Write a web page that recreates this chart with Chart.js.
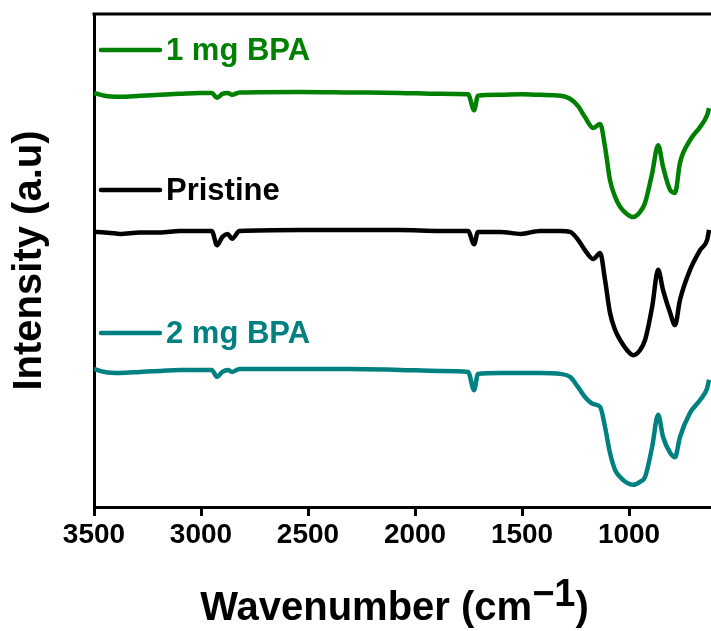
<!DOCTYPE html>
<html>
<head>
<meta charset="utf-8">
<script src="https://cdn.jsdelivr.net/npm/chart.js@4.4.1/dist/chart.umd.min.js"></script>
<style>
  body { margin: 0; background: #fff; }
  #wrap { width: 711px; height: 631px; }
</style>
</head>
<body>
<div id="wrap"><canvas id="ftirChart" width="711" height="631"></canvas></div>
<script>
// FTIR spectra, x axis in cm-1 (reversed), intensity in arbitrary units
const wavenumbers = [3500, 3450, 3380, 3285, 3190, 3100, 3005, 2950, 2925, 2900, 2875, 2855, 2820, 2537, 2304, 2070,
    1883, 1752, 1724, 1706, 1603, 1505, 1416, 1322, 1276, 1238, 1206, 1168, 1135, 1112, 1089, 1065, 1042, 1009,
    981, 949, 925, 892, 864, 841, 808, 785, 762, 715, 668, 635, 626];

const bpa1mg = [84.0, 83.4, 83.2, 83.4, 83.6, 83.8, 84.0, 84.0, 83.0, 83.8, 84.0, 83.6, 84.1, 84.2, 84.1, 84.0,
    83.8, 83.7, 80.5, 83.4, 83.6, 83.7, 83.6, 83.4, 82.8, 81.3, 79.1, 76.9, 77.7, 73.0, 66.3, 62.9, 60.9, 59.4,
    58.8, 59.8, 61.7, 67.7, 73.4, 69.0, 64.3, 63.7, 69.8, 74.4, 77.1, 79.5, 80.9];

const pristine = [55.8, 55.7, 55.4, 55.7, 55.7, 56.0, 56.0, 56.0, 53.1, 54.8, 55.4, 54.4, 56.0, 56.2, 56.2, 56.2,
    56.0, 56.0, 53.3, 55.8, 55.8, 55.4, 56.0, 56.0, 55.8, 54.2, 52.1, 50.3, 51.5, 46.0, 39.4, 35.9, 33.9, 31.8,
    30.8, 31.8, 33.9, 40.6, 48.1, 44.0, 39.4, 36.9, 42.0, 48.1, 52.1, 54.2, 56.2];

const bpa2mg = [28.0, 27.4, 27.2, 27.4, 27.6, 27.8, 27.8, 27.8, 26.4, 27.4, 27.8, 27.4, 28.0, 28.0, 28.0, 27.8,
    27.6, 27.4, 23.7, 27.0, 27.2, 27.2, 27.2, 27.0, 26.4, 24.3, 22.3, 20.9, 20.3, 16.2, 11.0, 7.5, 6.1, 4.9,
    4.5, 5.1, 6.1, 12.2, 18.7, 14.2, 11.0, 10.1, 14.2, 19.1, 21.7, 24.1, 25.8];

const seriesLabels = ['1 mg BPA', 'Pristine', '2 mg BPA'];
const xTicks = [3500, 3000, 2500, 2000, 1500, 1000];

const FONT = "'Liberation Sans', Arial, sans-serif";
Chart.defaults.font.family = FONT;
Chart.defaults.font.weight = 'bold';
Chart.defaults.color = '#000';

function toPoints(values) {
    return wavenumbers.map((w, i) => ({ x: w, y: values[i] }));
}

// legend rows drawn inside the plot, above each trace
const legendRows = [
    { y: 50 },
    { y: 190 },
    { y: 333 }
];

const insideLegend = {
    id: 'insideLegend',
    afterDatasetsDraw(chart) {
        const ctx = chart.ctx;
        ctx.save();
        chart.data.datasets.forEach((ds, i) => {
            const y = legendRows[i].y;
            ctx.strokeStyle = ds.borderColor;
            ctx.lineWidth = 4.5;
            ctx.lineCap = 'round';
            ctx.beginPath();
            ctx.moveTo(101, y);
            ctx.lineTo(160, y);
            ctx.stroke();
            ctx.fillStyle = ds.borderColor;
            ctx.font = 'bold 31px ' + FONT;
            ctx.textBaseline = 'middle';
            ctx.textAlign = 'left';
            ctx.fillText(ds.label, 166, y + 1);
        });
        ctx.restore();
    }
};

const frameAndTitle = {
    id: 'frameAndTitle',
    afterDraw(chart) {
        const ctx = chart.ctx;
        const area = chart.chartArea;
        ctx.save();
        // top frame line
        ctx.strokeStyle = '#000';
        ctx.lineWidth = 3;
        ctx.beginPath();
        ctx.moveTo(area.left - 1.5, area.top);
        ctx.lineTo(area.right, area.top);
        ctx.stroke();

        // x axis title with superscript
        const main = 'Wavenumber (cm';
        const sup = '\u22121';
        const close = ')';
        ctx.fillStyle = '#000';
        ctx.textBaseline = 'alphabetic';
        ctx.textAlign = 'left';
        ctx.font = 'bold 40px ' + FONT;
        const wMain = ctx.measureText(main).width;
        const wClose = ctx.measureText(close).width;
        ctx.font = 'bold 38px ' + FONT;
        const wSup = ctx.measureText(sup).width;
        const total = wMain + wSup + wClose;
        const cx = (area.left + area.right) / 2 - 8;
        const base = 620;
        let x = cx - total / 2;
        ctx.font = 'bold 40px ' + FONT;
        ctx.fillText(main, x, base);
        x += wMain;
        ctx.font = 'bold 38px ' + FONT;
        ctx.fillText(sup, x, base - 14);
        x += wSup;
        ctx.font = 'bold 40px ' + FONT;
        ctx.fillText(close, x, base);
        ctx.restore();
    }
};

const ctx = document.getElementById('ftirChart').getContext('2d');
const colors = ['#008000', '#000000', '#008080'];

const ftirChart = new Chart(ctx, {
    type: 'line',
    data: {
        datasets: [bpa1mg, pristine, bpa2mg].map((vals, i) => ({
            label: seriesLabels[i],
            data: toPoints(vals),
            borderColor: colors[i],
            borderWidth: 4.5,
            pointRadius: 0,
            fill: false,
            cubicInterpolationMode: 'monotone'
        }))
    },
    options: {
        responsive: false,
        animation: false,
        devicePixelRatio: 1,
        layout: { padding: { top: 14, right: 0, left: 0, bottom: 0 } },
        plugins: {
            legend: { display: false },
            tooltip: { enabled: false }
        },
        scales: {
            x: {
                type: 'linear',
                reverse: true,
                min: 617,
                max: 3500,
                afterBuildTicks(scale) {
                    scale.ticks = xTicks.map(v => ({ value: v }));
                },
                afterFit(scale) {
                    scale.height = 124;
                },
                grid: {
                    drawOnChartArea: false,
                    drawTicks: true,
                    tickLength: 9,
                    tickWidth: 3,
                    tickColor: '#000'
                },
                border: { display: true, color: '#000', width: 3 },
                ticks: {
                    font: { size: 28, weight: 'bold' },
                    color: '#000',
                    padding: 2,
                    maxRotation: 0,
                    autoSkip: false,
                    callback: v => String(v)
                }
            },
            y: {
                min: 0,
                max: 100,
                afterFit(scale) {
                    scale.width = 94;
                },
                grid: { display: false },
                border: { display: true, color: '#000', width: 3 },
                ticks: { display: false },
                title: {
                    display: true,
                    text: 'Intensity (a.u)',
                    font: { size: 40, weight: 'bold', lineHeight: 1.2 },
                    color: '#000',
                    padding: { top: 6, bottom: 0 }
                }
            }
        }
    },
    plugins: [insideLegend, frameAndTitle]
});
</script>
</body>
</html>
